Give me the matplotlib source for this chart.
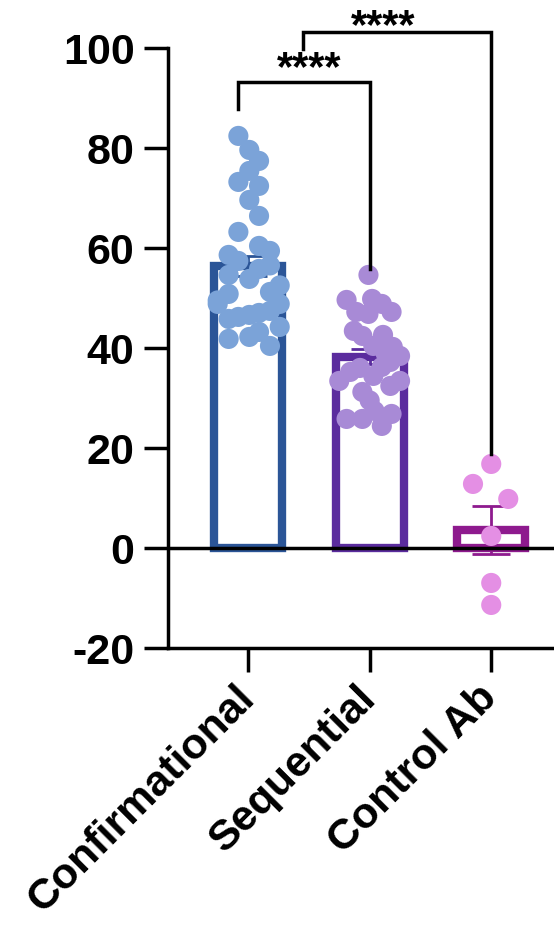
import matplotlib
matplotlib.use("Agg")
import matplotlib.pyplot as plt
import numpy as np

plt.rcParams['font.family'] = ['Liberation Sans', 'DejaVu Sans']

categories = ["Confirmational", "Sequential", "Control Ab"]
conf_vals = [82.4, 79.6, 77.4, 75.4, 73.2, 72.4, 69.6, 66.4, 63.2, 60.4, 59.4, 58.6,
             57.4, 55.8, 54.6, 53.8, 50.8, 51.2, 48.8, 48.8, 45.8, 46.2, 46.6, 47.0,
             47.4, 44.2, 41.8, 42.2, 43.2, 40.4, 49.5, 52.5, 56.5]
seq_vals = [54.6, 49.6, 49.8, 48.8, 47.2, 47.2, 46.8, 43.4, 42.4, 42.6, 40.2, 40.4,
            38.4, 36.2, 37.2, 35.2, 33.4, 34.4, 33.4, 31.2, 32.4, 25.8, 25.8, 27.4,
            24.4, 26.8, 39.0, 36.0, 29.5]
ctrl_vals = [16.8, 12.8, 9.8, 2.4, -7.0, -11.4]
conf_x = [-0.08, 0.01, 0.09, 0.01, -0.08, 0.09, 0.01, 0.09, -0.08, 0.09, 0.18, -0.16,
          -0.08, 0.09, -0.16, 0.01, -0.16, 0.18, -0.25, 0.26, -0.16, -0.08, 0.01, 0.09,
          0.18, 0.26, -0.16, 0.01, 0.09, 0.18, -0.25, 0.26, 0.18]
seq_x = [-0.01, -0.19, 0.02, 0.10, 0.18, -0.11, -0.01, -0.13, -0.06, 0.11, 0.19, 0.03,
         0.25, 0.10, 0.17, -0.16, -0.25, 0.03, 0.25, -0.06, 0.17, -0.19, -0.06, 0.04,
         0.10, 0.18, 0.13, -0.08, 0.00]
ctrl_x = [0.0, -0.15, 0.14, 0.0, 0.0, 0.0]

means = [56.3, 38.2, 3.6]
sems = [2.0, 1.5, 4.8]
edge_colors = ["#2B5597", "#5B2C9E", "#8E1A8E"]
point_colors = ["#7BA3D8", "#A88AD6", "#E48FE4"]
yticks = [-20, 0, 20, 40, 60, 80, 100]
stars = ["****", "****"]

fig = plt.figure(figsize=(5.54, 9.28), dpi=100)
ax = fig.add_axes([0.303, 0.3007, 0.70, 0.6466])

xpos = np.arange(len(categories))
ax.bar(xpos, means, width=0.56, facecolor="white", edgecolor=edge_colors,
       linewidth=6, zorder=2)
for i, (m, s) in enumerate(zip(means, sems)):
    ax.errorbar(xpos[i], m, yerr=s, fmt='none', ecolor=edge_colors[i],
                elinewidth=2, capsize=14, capthick=2, zorder=3)

for i, (vals, xs) in enumerate([(conf_vals, conf_x), (seq_vals, seq_x), (ctrl_vals, ctrl_x)]):
    ax.scatter(xpos[i] + np.array(xs), vals, s=210, color=point_colors[i],
               edgecolors='none', zorder=4)

ax.axhline(0, color='black', linewidth=2.5, zorder=5)

ax.set_xlim(-0.66, 2.53)
ax.set_ylim(-20, 100)
ax.set_yticks(yticks)
ax.set_yticklabels([str(t) for t in yticks], fontsize=31, fontweight='bold')
ax.set_xticks(xpos)
ax.set_xticklabels(categories, fontsize=31, fontweight='bold', rotation=45,
                   ha='right', va='center', rotation_mode='anchor')
ax.tick_params(axis='both', width=2.5, length=17)
ax.tick_params(axis='y', pad=7)
ax.tick_params(axis='x', pad=14)
for sp in ['top', 'right']:
    ax.spines[sp].set_visible(False)
for sp in ['left', 'bottom']:
    ax.spines[sp].set_linewidth(2.5)

# significance brackets
b1 = dict(x1=-0.08, x2=1.0, top=93.2, l=87.8, r=55.8, sx=0.50, sy=93.8)
b2 = dict(x1=0.45, x2=2.0, top=103.2, l=99.8, r=18.8, sx=1.11, sy=102.2)
for b, st in zip([b1, b2], stars):
    ax.plot([b['x1'], b['x1'], b['x2'], b['x2']], [b['l'], b['top'], b['top'], b['r']],
            color='black', linewidth=2.5, clip_on=False, zorder=6,
            solid_joinstyle='miter')
    ax.text(b['sx'], b['sy'], st, ha='center', va='baseline',
            fontsize=30, fontweight='bold', clip_on=False)

fig.savefig("out.png", dpi=100)
